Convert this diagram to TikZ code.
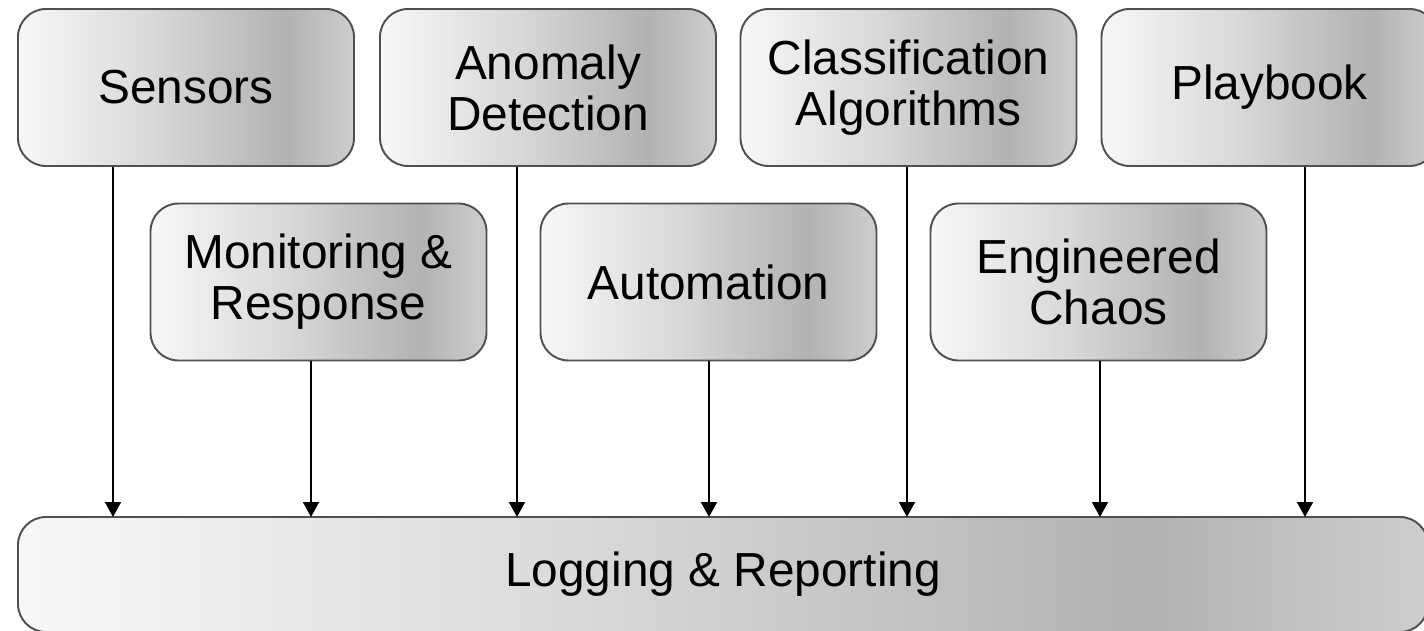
\documentclass[tikz,border=0pt]{standalone}
\usepackage{fontspec}
\setmainfont{Liberation Sans}
\usetikzlibrary{arrows.meta}

\definecolor{boxedge}{HTML}{505050}
\definecolor{shadeleft}{HTML}{F7F7F7}
\definecolor{shademid}{HTML}{D8D9DA}
\definecolor{shadedark}{HTML}{B2B2B3}
\definecolor{shaderight}{HTML}{CDCECF}
\pgfdeclarehorizontalshading{boxshade}{100bp}{color(0bp)=(shadeleft); color(25bp)=(shadeleft); color(45bp)=(shademid); color(65bp)=(shadedark); color(75bp)=(shaderight); color(100bp)=(shaderight)}

\tikzset{
  block/.style={draw=boxedge, line width=1.1pt, rounded corners=0.56cm, shading=boxshade,
    minimum width=6.72cm, minimum height=3.14cm, inner sep=0pt, align=center,
    font=\fontsize{27.2}{29}\selectfont},
  feed/.style={-{Triangle[width=0.32cm,length=0.3cm]}, line width=1.1pt}
}

\begin{document}
\begin{tikzpicture}
    \useasboundingbox (0,0) rectangle (28.48,12.6);
    \clip (0,0) rectangle (28.48,12.6);

    % upper row
    \node[block] (sensors) at (3.72,10.85) {Sensors};
    \node[block] (anomaly) at (10.96,10.85) {Anomaly\\Detection};
    \node[block] (classify) at (18.17,10.85) {Classification\\Algorithms};
    \node[block] (playbook) at (25.39,10.85) {Playbook};

    % lower row
    \node[block] (monitor) at (6.37,6.96) {Monitoring \&\\Response};
    \node[block] (automation) at (14.17,6.96) {Automation};
    \node[block] (chaos) at (21.97,6.96) {Engineered\\Chaos};

    % logging bar (runs past the page edge)
    \node[block, minimum width=28.2cm, minimum height=2.3cm] (logging) at (14.46,1.11) {Logging \& Reporting};

    % inputs on top of the bar
    \coordinate (in1) at (2.26,2.26);
    \coordinate (in2) at (6.22,2.26);
    \coordinate (in3) at (10.34,2.26);
    \coordinate (in4) at (14.18,2.26);
    \coordinate (in5) at (18.14,2.26);
    \coordinate (in6) at (22.0,2.26);
    \coordinate (in7) at (26.1,2.26);

    % arrows down
    \draw[feed] (sensors.south -| in1) -- (in1);
    \draw[feed] (monitor.south -| in2) -- (in2);
    \draw[feed] (anomaly.south -| in3) -- (in3);
    \draw[feed] (automation.south -| in4) -- (in4);
    \draw[feed] (classify.south -| in5) -- (in5);
    \draw[feed] (chaos.south -| in6) -- (in6);
    \draw[feed] (playbook.south -| in7) -- (in7);

\end{tikzpicture}
\end{document}
